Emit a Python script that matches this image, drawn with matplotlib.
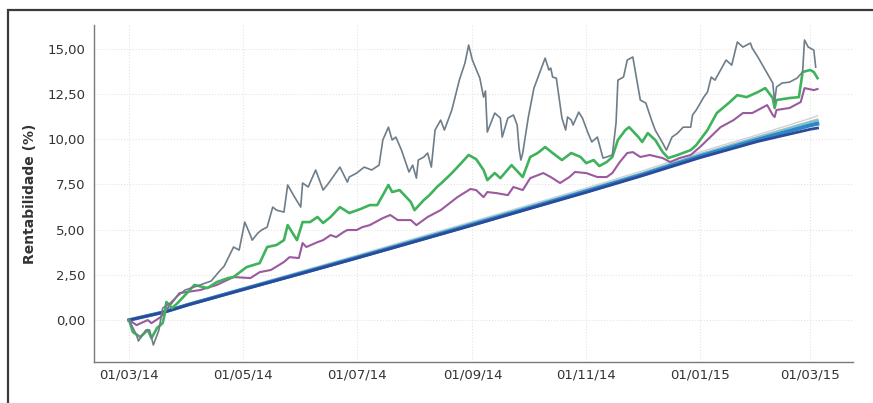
import matplotlib
matplotlib.use("Agg")
import matplotlib.pyplot as plt
from matplotlib.ticker import FuncFormatter
from matplotlib.patches import Rectangle
import pandas as pd

start = pd.Timestamp("2014-03-01")

# ---- data: days since 01/03/14 and rentabilidade (%) ----
grey_days = [0, 4, 5, 9, 11, 13, 16, 18, 22, 26, 30, 35, 41, 44, 48, 51, 56, 59, 62, 65, 66, 69, 71, 74,
             77, 79, 83, 85, 89, 92, 93, 96, 100, 104, 107, 113, 117, 118, 122, 126, 130, 134, 136, 139,
             141, 143, 146, 150, 152, 154, 155, 158, 160, 162, 164, 167, 169, 173, 177, 180, 182, 184,
             188, 190, 191, 192, 196, 199, 200, 203, 206, 208, 209, 210, 211, 214, 217, 220, 223, 225,
             226, 227, 229, 232, 234, 235, 237, 238, 241, 243, 246, 248, 251, 254, 256, 259, 261, 262,
             265, 267, 270, 274, 277, 280, 282, 286, 288, 291, 294, 297, 301, 302, 304, 308, 310, 312,
             314, 317, 320, 323, 326, 329, 333, 334, 337, 341, 345, 346, 347, 350, 354, 358, 361, 362,
             364, 367, 368]
grey_vals = [0.00, -0.83, -1.16, -0.55, -0.55, -1.38, -0.55, 0.66, 0.94, 1.33, 1.66, 1.83, 2.05, 2.16,
             2.65, 2.99, 4.04, 3.87, 5.42, 4.70, 4.42, 4.81, 4.98, 5.14, 6.25, 6.08, 5.97, 7.47, 6.75,
             6.25, 7.58, 7.36, 8.30, 7.19, 7.58, 8.46, 7.63, 7.91, 8.13, 8.46, 8.30, 8.57, 9.96, 10.67,
             9.96, 10.12, 9.40, 8.19, 8.57, 7.85, 8.85, 9.02, 9.24, 8.46, 10.51, 11.06, 10.51, 11.62,
             13.27, 14.21, 15.21, 14.38, 13.38, 12.33, 12.67, 10.40, 11.45, 11.17, 10.12, 11.17, 11.34,
             10.79, 9.51, 8.85, 9.24, 11.23, 12.83, 13.66, 14.49, 13.83, 13.94, 13.44, 13.38, 11.17,
             10.51, 11.23, 11.06, 10.79, 11.50, 11.17, 10.34, 9.85, 10.12, 8.96, 9.02, 9.13, 10.90,
             13.27, 13.44, 14.38, 14.55, 12.17, 12.00, 11.06, 10.51, 9.79, 9.40, 10.12, 10.34, 10.67,
             10.67, 11.34, 11.62, 12.33, 12.61, 13.44, 13.27, 13.83, 14.38, 14.10, 15.38, 15.10, 15.32,
             15.04, 14.55, 13.83, 13.11, 12.06, 12.89, 13.11, 13.16, 13.38, 13.72, 15.49, 15.10, 14.93,
             13.99]

green_days = [0, 2, 6, 10, 12, 15, 18, 19, 20, 23, 26, 31, 35, 42, 47, 53, 56, 63, 70, 74, 79, 83, 85,
              90, 93, 97, 101, 104, 108, 113, 118, 124, 129, 133, 136, 139, 141, 145, 149, 151, 153, 158,
              161, 165, 168, 173, 177, 182, 186, 190, 192, 196, 199, 205, 210, 211, 215, 219, 223, 227,
              232, 237, 242, 245, 249, 252, 256, 259, 262, 266, 268, 273, 275, 278, 282, 286, 289, 294,
              301, 304, 310, 315, 322, 326, 331, 337, 341, 345, 346, 347, 354, 359, 361, 365, 367, 369]
green_vals = [0.00, -0.66, -0.94, -0.55, -1.00, -0.44, -0.17, 0.28, 1.00, 0.66, 0.94, 1.49, 1.94, 1.77,
              2.10, 2.32, 2.38, 2.93, 3.15, 4.04, 4.15, 4.42, 5.25, 4.42, 5.42, 5.42, 5.70, 5.37, 5.70,
              6.25, 5.92, 6.14, 6.36, 6.36, 6.91, 7.47, 7.08, 7.19, 6.75, 6.53, 6.08, 6.64, 6.91, 7.36,
              7.63, 8.13, 8.57, 9.13, 8.90, 8.30, 7.74, 8.13, 7.85, 8.57, 8.02, 7.91, 9.02, 9.24, 9.57,
              9.24, 8.85, 9.24, 9.02, 8.68, 8.85, 8.52, 8.74, 9.02, 9.96, 10.51, 10.67, 10.12, 9.85,
              10.34, 9.96, 9.29, 8.96, 9.13, 9.40, 9.68, 10.51, 11.45, 12.06, 12.44, 12.33, 12.61, 12.83,
              12.28, 11.73, 12.17, 12.28, 12.33, 13.72, 13.83, 13.72, 13.38]

purple_days = [0, 4, 10, 12, 17, 19, 27, 38, 47, 56, 65, 70, 76, 83, 86, 91, 93, 95, 101, 104, 108, 111,
               115, 117, 122, 125, 129, 136, 140, 144, 151, 154, 160, 167, 176, 183, 186, 190, 192, 197,
               203, 206, 211, 215, 222, 226, 231, 236, 239, 245, 251, 256, 259, 263, 267, 270, 274, 279,
               286, 290, 295, 301, 306, 311, 317, 324, 329, 334, 342, 345, 346, 347, 354, 360, 362, 367,
               369]
purple_vals = [0.00, -0.28, 0.00, -0.17, 0.17, 0.44, 1.49, 1.66, 1.94, 2.38, 2.32, 2.65, 2.77, 3.21,
               3.48, 3.43, 4.26, 4.04, 4.31, 4.42, 4.70, 4.59, 4.87, 4.98, 4.98, 5.14, 5.25, 5.64, 5.81,
               5.53, 5.53, 5.25, 5.70, 6.08, 6.80, 7.25, 7.19, 6.80, 7.08, 7.02, 6.91, 7.36, 7.19, 7.85,
               8.13, 7.91, 7.58, 7.91, 8.19, 8.13, 7.91, 7.91, 8.13, 8.74, 9.24, 9.29, 9.02, 9.13, 8.96,
               8.74, 8.96, 9.13, 9.57, 10.07, 10.67, 11.06, 11.45, 11.45, 11.89, 11.34, 11.23, 11.62,
               11.73, 12.06, 12.83, 12.72, 12.78]

# near-linear (fixed income / CDI-like) series, read at month starts
lin_days = [0, 19, 31, 61, 92, 122, 153, 184, 214, 245, 275, 306, 337, 365, 369]
lightgrey_vals = [0.00, 0.50, 0.88, 1.78, 2.70, 3.58, 4.52, 5.45, 6.36, 7.30, 8.25, 9.30, 10.25, 11.15, 11.30]
orange_vals = [0.00, 0.48, 0.86, 1.74, 2.65, 3.52, 4.45, 5.38, 6.28, 7.22, 8.15, 9.20, 10.15, 11.00, 11.12]
cyan_vals = [0.00, 0.47, 0.85, 1.72, 2.63, 3.50, 4.42, 5.35, 6.25, 7.18, 8.10, 9.14, 10.08, 10.92, 11.02]
dark_vals = [0.00, 0.46, 0.84, 1.70, 2.60, 3.46, 4.38, 5.30, 6.20, 7.14, 8.06, 9.08, 10.00, 10.80, 10.90]
blue_vals = [0.00, 0.45, 0.83, 1.70, 2.58, 3.45, 4.36, 5.28, 6.18, 7.12, 8.04, 9.06, 9.98, 10.76, 10.85]
navy_vals = [0.00, 0.44, 0.82, 1.68, 2.56, 3.42, 4.33, 5.24, 6.14, 7.06, 7.98, 8.98, 9.88, 10.55, 10.62]

yticks = [0, 2.5, 5, 7.5, 10, 12.5, 15]
xtick_labels = ["01/03/14", "01/05/14", "01/07/14", "01/09/14", "01/11/14", "01/01/15", "01/03/15"]


def to_dates(days):
    return [start + pd.Timedelta(days=d) for d in days]


fig = plt.figure(figsize=(8.73, 4.03), dpi=100)
ax = fig.add_axes([94 / 873, 1 - 362 / 403, (853 - 94) / 873, (362 - 25) / 403])

# outer frame (cut at right/bottom like the scan)
fig.patches.append(Rectangle((8 / 873, -0.2), 2.0, 1.2 - 10 / 403,
                             transform=fig.transFigure, fill=False,
                             edgecolor="#3a3a3a", linewidth=1.6))

ld = to_dates(lin_days)
ax.plot(ld, lightgrey_vals, color="#c9d3da", lw=1.0, zorder=2)
ax.plot(ld, orange_vals, color="#e3b58c", lw=1.0, zorder=2)
ax.plot(ld, cyan_vals, color="#6cc4e4", lw=2.0, zorder=3)
ax.plot(ld, dark_vals, color="#4d4a52", lw=1.5, zorder=3)
ax.plot(ld, blue_vals, color="#2f86c6", lw=2.6, zorder=4)
ax.plot(ld, navy_vals, color="#2a4a9a", lw=2.0, zorder=4)

ax.plot(to_dates(purple_days), purple_vals, color="#9a5a9e", lw=1.5, zorder=5)
ax.plot(to_dates(green_days), green_vals, color="#3fb25c", lw=1.9, zorder=6)
ax.plot(to_dates(grey_days), grey_vals, color="#6e7d88", lw=1.2, zorder=7)

ax.set_xlim(start + pd.Timedelta(days=-18.8), start + pd.Timedelta(days=388))
ax.set_ylim(-2.32, 16.32)

xticks = [pd.to_datetime(t, format="%d/%m/%y") for t in xtick_labels]
ax.set_xticks(xticks)
ax.set_xticklabels(xtick_labels)
ax.set_yticks(yticks)
ax.yaxis.set_major_formatter(FuncFormatter(lambda v, p: f"{v:.2f}".replace(".", ",")))

ax.tick_params(axis="both", length=0, labelsize=9.5, colors="#333333")
ax.tick_params(axis="y", pad=6)
ax.tick_params(axis="x", pad=5)

for s in ["top", "right"]:
    ax.spines[s].set_visible(False)
for s in ["left", "bottom"]:
    ax.spines[s].set_color("#7a7a7a")
    ax.spines[s].set_linewidth(1.0)

ax.grid(True, color="#e4e4e4", linestyle=":", linewidth=0.8)
ax.set_axisbelow(True)

ax.set_ylabel("Rentabilidade (%)", fontsize=10, fontweight="bold", color="#333333", labelpad=8)

fig.savefig("out.png", dpi=100)
